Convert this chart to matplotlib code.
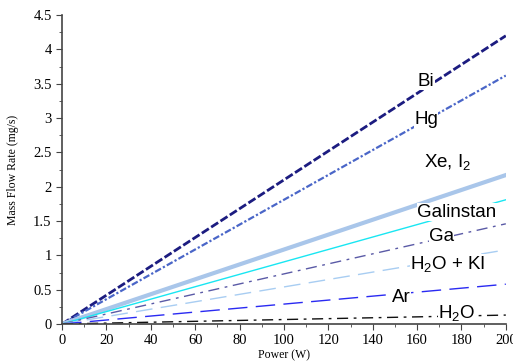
import matplotlib.pyplot as plt
from matplotlib.ticker import MultipleLocator

plt.rcParams["mathtext.fontset"] = "custom"
plt.rcParams["mathtext.rm"] = "Liberation Sans"
plt.rcParams["mathtext.it"] = "Liberation Sans:italic"

# Mass flow rate at 0 W and 200 W for each propellant (mg/s)
power = [0, 200]
names = ["Bi", "Hg", "Xe, I$_2$", "Galinstan", "Ga", "H$_2$O + KI", "Ar", "H$_2$O"]
rates = [
    [0, 4.20],
    [0, 3.62],
    [0, 2.17],
    [0, 1.81],
    [0, 1.46],
    [0, 1.08],
    [0, 0.58],
    [0, 0.13],
]
label_x = [164, 164, 174, 178, 171, 174, 153, 178]
label_y = [3.54, 2.98, 2.36, 1.63, 1.27, 0.87, 0.38, 0.16]

colors = ["#1c1c80", "#4a66c8", "#a9c6ea", "#19e6f2", "#5a5aa6", "#a8cdf2", "#2a2af2", "#111111"]
styles = [(0, (3, 1)), (0, (3, 1, 1, 1)), "-", "-", (0, (8, 4, 2, 4)), (0, (12, 6)), (0, (14, 6)), (0, (8, 4, 2, 4))]
widths = [2.0, 1.6, 3.0, 1.0, 1.0, 1.0, 1.0, 1.0]

fig = plt.figure(figsize=(5.13, 3.61), dpi=100)
ax = fig.add_axes([0.121, 0.1025, 0.865, 0.8555])

for r, c, ls, lw in zip(rates, colors, styles, widths):
    ax.plot(power, r, color=c, linestyle=ls, linewidth=lw)

for n, x, y in zip(names, label_x, label_y):
    ax.text(x, y, n, fontsize=13.5, family="Liberation Sans", ha="center", va="center",
            bbox=dict(facecolor="white", edgecolor="none", pad=0.3))

ax.set_xlim(0, 200)
ax.set_ylim(0, 4.5)
ax.xaxis.set_major_locator(MultipleLocator(20))
ax.xaxis.set_minor_locator(MultipleLocator(10))
ax.yaxis.set_minor_locator(MultipleLocator(0.25))
ax.set_yticks([0, 0.5, 1, 1.5, 2, 2.5, 3, 3.5, 4, 4.5])
ax.set_yticklabels(["0", "0.5", "1", "1.5", "2", "2.5", "3", "3.5", "4", "4.5"])

for s in ["top", "right"]:
    ax.spines[s].set_visible(False)
for s in ["left", "bottom"]:
    ax.spines[s].set_color("#444444")
    ax.spines[s].set_linewidth(1.2)
ax.tick_params(which="both", direction="out", color="#444444", labelsize=10.5)
ax.tick_params(which="major", length=4)
ax.tick_params(which="minor", length=2.5)
for lbl in ax.get_xticklabels() + ax.get_yticklabels():
    lbl.set_family("Liberation Serif")

ax.set_xlabel("Power (W)", family="Liberation Serif", fontsize=8.5, labelpad=1)
ax.set_ylabel("Mass Flow Rate (mg/s)", family="Liberation Serif", fontsize=8.5, labelpad=10)

plt.savefig("out.png", dpi=100)
